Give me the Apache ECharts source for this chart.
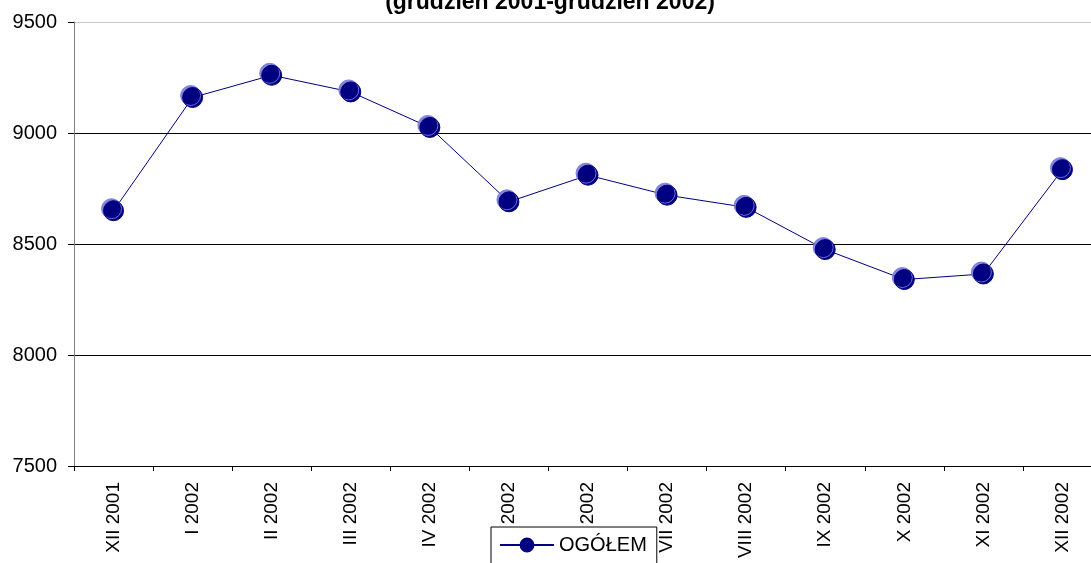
<!DOCTYPE html>
<html>
<head>
<meta charset="utf-8">
<script src="https://cdn.jsdelivr.net/npm/echarts@6/dist/echarts.min.js"></script>
<style>html,body{margin:0;padding:0;background:#fff;overflow:hidden;width:1091px;height:563px;}#c{width:1102px;height:563px;}</style>
</head>
<body>
<div id="c"></div>
<script>
const titleText = '(grudzień 2001-grudzień 2002)';
const categories = ['XII 2001','I 2002','II 2002','III 2002','IV 2002','V 2002','VI 2002','VII 2002','VIII 2002','IX 2002','X 2002','XI 2002','XII 2002'];
const seriesName = 'OGÓŁEM';
const values = [8650, 9160, 9260, 9185, 9025, 8690, 8810, 8720, 8665, 8475, 8340, 8365, 8835];
const yTicks = [7500, 8000, 8500, 9000, 9500];

const FF = 'Liberation Sans, Arial, sans-serif';
const chart = echarts.init(document.getElementById('c'), null, {renderer:'canvas'});
chart.setOption({
  animation: false,
  backgroundColor: '#fff',
  textStyle: {fontFamily: FF},
  title: {
    text: titleText, left: 545, textAlign: 'center', top: -14,
    textStyle: {fontSize: 23, fontWeight: 'bold', color: '#000', fontFamily: FF}
  },
  grid: {left: 74, right: 0, top: 22, bottom: 97, containLabel: false},
  xAxis: {
    type: 'category', data: categories, boundaryGap: true,
    axisLine: {show: true, lineStyle: {color: '#000', width: 1}},
    axisTick: {show: true, length: 5, alignWithLabel: false, lineStyle: {color: '#000'}},
    axisLabel: {rotate: 90, margin: 16, fontSize: 19, color: '#000', interval: 0, fontFamily: FF},
    splitLine: {show: false}
  },
  yAxis: {
    type: 'value', min: yTicks[0], max: yTicks[yTicks.length-1], interval: 500,
    axisLine: {show: true, lineStyle: {color: '#808080', width: 1}},
    axisTick: {show: true, length: 6, lineStyle: {color: '#000'}},
    axisLabel: {margin: 17, fontSize: 20, color: '#000', fontFamily: FF, formatter: v => String(v)},
    splitLine: {show: true, lineStyle: {color: ['#000','#000','#000','#000','#c8c8c8'], width: 1}}
  },
  legend: {
    data: [seriesName], left: 491, top: 527,
    backgroundColor: '#fff', borderColor: '#000', borderWidth: 1,
    padding: [8, 10, 20, 8],
    itemWidth: 54, itemHeight: 16, itemGap: 8,
    textStyle: {fontSize: 20, color: '#000', fontFamily: FF}
  },
  series: [{
    name: seriesName, type: 'line', data: values,
    symbol: 'circle', symbolSize: 20,
    lineStyle: {color: '#000080', width: 1},
    itemStyle: {color: '#000080', borderColor: '#000080', borderWidth: 1,
      shadowColor: 'rgba(120,120,220,0.9)', shadowBlur: 0, shadowOffsetX: -2, shadowOffsetY: -2}
  }]
});
</script>
</body>
</html>
